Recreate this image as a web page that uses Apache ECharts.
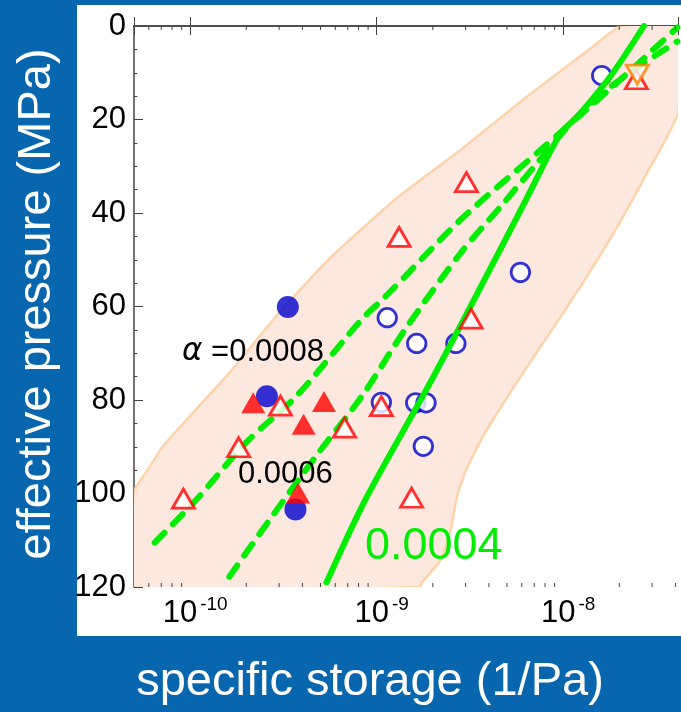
<!DOCTYPE html>
<html>
<head>
<meta charset="utf-8">
<script src="https://cdn.jsdelivr.net/npm/echarts@6/dist/echarts.min.js"></script>
<style>
  html, body { margin: 0; padding: 0; background: #0766ad; }
  #chart { width: 681px; height: 712px; }
</style>
</head>
<body>
<div id="chart"></div>
<script>
// Axis ranges
const xMin = 5e-11;
const xMax = 4.13e-8;
const yMin = 0;
const yMax = 120;
const yTickStep = 20;
const xMinorTicks = [6e-11, 7e-11, 8e-11, 9e-11,
  2e-10, 3e-10, 4e-10, 5e-10, 6e-10, 7e-10, 8e-10, 9e-10,
  2e-9, 3e-9, 4e-9, 5e-9, 6e-9, 7e-9, 8e-9, 9e-9,
  2e-8, 3e-8, 4e-8];

// Measured samples: specific storage (1/Pa) vs effective pressure (MPa)
const openCircleSs = [1.61e-8, 5.9e-9, 1.14e-9, 1.64e-9, 2.66e-9, 1.06e-9, 1.62e-9, 1.84e-9, 1.78e-9];
const openCircleP  = [10.6, 52.7, 62.4, 67.9, 67.9, 80.5, 80.6, 80.6, 89.9];
const filledCircleSs = [3.34e-10, 2.58e-10, 3.67e-10];
const filledCircleP  = [60.1, 79.2, 103.4];
const openTriangleSs = [2.47e-8, 3.03e-9, 1.32e-9, 3.21e-9, 3.05e-10, 1.06e-9, 6.73e-10, 1.82e-10, 9.2e-11, 1.54e-9];
const openTriangleP  = [11.4, 33.4, 45.1, 62.6, 81.2, 81.3, 85.9, 90.1, 101.1, 100.9];
const filledTriangleSs = [2.18e-10, 5.22e-10, 4.06e-10, 3.79e-10];
const filledTriangleP  = [80.6, 80.3, 85.2, 99.9];
const downTriangleSs = [2.5e-8];
const downTriangleP  = [10.4];

// Model curves for alpha = 0.0008, 0.0006, 0.0004
const curve08Ss = [6.45e-11, 1.081e-10, 1.995e-10, 3.69e-10, 8.30e-10, 1.114e-9, 2.83e-9, 7.94e-9, 9.66e-9, 1.95e-8, 4.1e-8];
const curve08P  = [110.5, 101.3, 89.1, 79.3, 62.8, 57.9, 41.4, 25.8, 22.8, 12.1, 0.3];
const curve06Ss = [1.622e-10, 2.75e-10, 4.90e-10, 8.30e-10, 1.423e-9, 2.83e-9, 4.63e-9, 7.30e-9, 1.122e-8, 1.72e-8, 2.65e-8, 4.1e-8];
const curve06P  = [117.8, 104.9, 91.2, 79.3, 64.9, 48.5, 38.6, 29.2, 20.4, 13.6, 8.2, 3.3];
const curve04Ss = [5.39e-10, 8.71e-10, 1.888e-9, 3.49e-9, 6.45e-9, 9.68e-9, 1.19e-8, 1.79e-8, 2.71e-8];
const curve04P  = [119.0, 101.3, 77.1, 57.0, 36.5, 23.0, 19.4, 10.8, 0];

// Envelope of the data (closed outline)
const envelopeSs = [2.03e-8, 4.13e-8, 4.13e-8, 2.82e-8, 1.87e-8, 1.24e-8, 8.24e-9, 5.48e-9, 3.64e-9, 2.97e-9,
  2.67e-9, 2.52e-9, 2.22e-9, 1.74e-9, 1.70e-9, 5e-11, 5e-11, 6.0e-11, 7.14e-11, 1.076e-10, 1.622e-10,
  2.44e-10, 3.12e-10, 5.53e-10, 1.256e-9, 2.84e-9, 6.45e-9, 1.46e-8];
const envelopeP = [0, 0, 18.6, 31.4, 44.2, 55.7, 66.4, 77.0, 88.4, 95.6,
  101.3, 107.0, 114.1, 119.1, 120, 120, 99.6, 94.6, 89.9, 82.0, 74.2,
  65.6, 60.6, 49.9, 37.1, 26.4, 15.0, 4.3];

const zip = (xs, ys) => xs.map((x, i) => [x, ys[i]]);

const GREEN = '#00ee00';
const RED = '#ff0000';
const BLUE = '#0000cc';
const FONT = '"Liberation Sans", Arial, sans-serif';

const chart = echarts.init(document.getElementById('chart'), null, { renderer: 'canvas' });

const xAxisCommon = {
  type: 'log',
  logBase: 10,
  min: xMin,
  max: xMax,
  splitLine: { show: false },
  axisLine: { show: true, lineStyle: { color: '#444', width: 1.5 } },
  axisTick: { show: true, inside: true, length: 9, lineStyle: { color: '#444', width: 1 } },
  minorTick: { show: false }
};

function expLabel(v) {
  const l = Math.log10(v);
  const e = Math.round(l);
  if (Math.abs(l - e) > 1e-6) return '';
  return '{b|10}{s|' + e + '}';
}

const lineStyleBase = { color: GREEN, width: 6, cap: 'round' };

const option = {
  backgroundColor: '#0766ad',
  animation: false,
  graphic: [
    { type: 'rect', z: -10, silent: true, shape: { x: 77, y: 5, width: 604, height: 631 }, style: { fill: '#ffffff' } },
    { type: 'text', z: 100, x: 370, y: 682,
      style: { text: 'specific storage (1/Pa)', fill: '#ffffff', font: '47px ' + FONT, textAlign: 'center', textVerticalAlign: 'middle' } },
    { type: 'text', z: 100, x: 37, y: 304, rotation: Math.PI / 2,
      style: { text: 'effective pressure (MPa)', fill: '#ffffff', font: '47px ' + FONT, textAlign: 'center', textVerticalAlign: 'middle' } },
    { type: 'text', z: 100, x: 182, y: 352,
      style: { text: '{a|α} =0.0008', fill: '#000', font: '31px ' + FONT, textAlign: 'left', textVerticalAlign: 'middle',
        rich: { a: { fontStyle: 'italic', fontSize: 31, fontFamily: 'DejaVu Sans', fill: '#000', color: '#000' } } } },
    { type: 'text', z: 100, x: 238, y: 474,
      style: { text: '0.0006', fill: '#000', font: '31px ' + FONT, textAlign: 'left', textVerticalAlign: 'middle' } },
    { type: 'text', z: 100, x: 365, y: 547,
      style: { text: '0.0004', fill: GREEN, font: '45px ' + FONT, textAlign: 'left', textVerticalAlign: 'middle' } }
  ],
  grid: { left: 134, right: 0, top: 26, bottom: 125, containLabel: false },
  xAxis: [
    Object.assign({}, xAxisCommon, {
      position: 'bottom',
      axisLabel: {
        show: true, margin: 8, formatter: expLabel, padding: [0, 0, 0, 10],
        rich: {
          b: { fontSize: 31, fontFamily: FONT, color: '#000', lineHeight: 36 },
          s: { fontSize: 19, fontFamily: FONT, color: '#000', verticalAlign: 'top', lineHeight: 36, padding: [0, 0, 0, 3] }
        }
      }
    }),
    Object.assign({}, xAxisCommon, { position: 'top', axisLabel: { show: false } })
  ],
  yAxis: {
    type: 'value',
    inverse: true,
    min: yMin,
    max: yMax,
    interval: yTickStep,
    splitLine: { show: false },
    axisLine: { show: true, lineStyle: { color: '#444', width: 1.5 } },
    axisTick: { show: true, inside: true, length: 9, lineStyle: { color: '#444', width: 1 } },
    minorTick: { show: true, splitNumber: 4, length: 3.5, lineStyle: { color: '#444', width: 1 } },
    axisLabel: { show: true, margin: 8, fontSize: 31, fontFamily: FONT, color: '#000' }
  },
  series: [
    {
      type: 'custom', name: 'envelope', z: 1, silent: true, clip: true,
      data: [[envelopeSs[0], envelopeP[0]]],
      encode: { x: 0, y: 1 },
      renderItem: function (params, api) {
        const pts = envelopeSs.map((x, i) => api.coord([x, envelopeP[i]]));
        return {
          type: 'polygon',
          shape: { points: pts, smooth: 0.15 },
          style: { fill: '#fde8e0', stroke: '#fdd3aa', lineWidth: 2.5 }
        };
      }
    },
    {
      type: 'custom', name: 'minorTicks', z: 5, silent: true, clip: false,
      data: xMinorTicks.map(v => [v, yMax]),
      encode: { x: 0, y: 1 },
      renderItem: function (params, api) {
        const v = api.value(0);
        const b = api.coord([v, yMax]);
        const t = api.coord([v, yMin]);
        const st = { stroke: '#444', lineWidth: 1 };
        return {
          type: 'group',
          children: [
            { type: 'line', shape: { x1: b[0], y1: b[1], x2: b[0], y2: b[1] - 4 }, style: st },
            { type: 'line', shape: { x1: t[0], y1: t[1], x2: t[0], y2: t[1] + 4 }, style: st }
          ]
        };
      }
    },
    {
      type: 'scatter', name: 'filled circles', z: 3, symbol: 'circle', symbolSize: 22,
      itemStyle: { color: BLUE },
      data: zip(filledCircleSs, filledCircleP)
    },
    {
      type: 'scatter', name: 'open circles', z: 3, symbol: 'circle', symbolSize: 18.5,
      itemStyle: { color: '#ffffff', borderColor: BLUE, borderWidth: 2.8 },
      data: zip(openCircleSs, openCircleP)
    },
    {
      type: 'line', name: 'alpha 0.0008', z: 4, symbol: 'none', smooth: 0.3,
      lineStyle: Object.assign({}, lineStyleBase, { type: [14, 12] }),
      data: zip(curve08Ss, curve08P)
    },
    {
      type: 'line', name: 'alpha 0.0006', z: 4, symbol: 'none', smooth: 0.3,
      lineStyle: Object.assign({}, lineStyleBase, { type: [14, 12] }),
      data: zip(curve06Ss, curve06P)
    },
    {
      type: 'line', name: 'alpha 0.0004', z: 4, symbol: 'none', smooth: 0.3,
      lineStyle: Object.assign({}, lineStyleBase, { type: 'solid' }),
      data: zip(curve04Ss, curve04P)
    },
    {
      type: 'scatter', name: 'filled triangles', z: 6, symbol: 'triangle', symbolSize: [24, 21],
      itemStyle: { color: RED },
      data: zip(filledTriangleSs, filledTriangleP)
    },
    {
      type: 'scatter', name: 'open triangles', z: 6, symbol: 'triangle', symbolSize: [22, 19],
      itemStyle: { color: '#ffffff', borderColor: RED, borderWidth: 2.8 },
      data: zip(openTriangleSs, openTriangleP)
    },
    {
      type: 'scatter', name: 'inverted triangle', z: 7, symbol: 'triangle', symbolRotate: 180, symbolSize: [22, 19],
      itemStyle: { color: '#ffffff', borderColor: '#ff8000', borderWidth: 2.8 },
      data: zip(downTriangleSs, downTriangleP)
    }
  ]
};

chart.setOption(option);
</script>
</body>
</html>
